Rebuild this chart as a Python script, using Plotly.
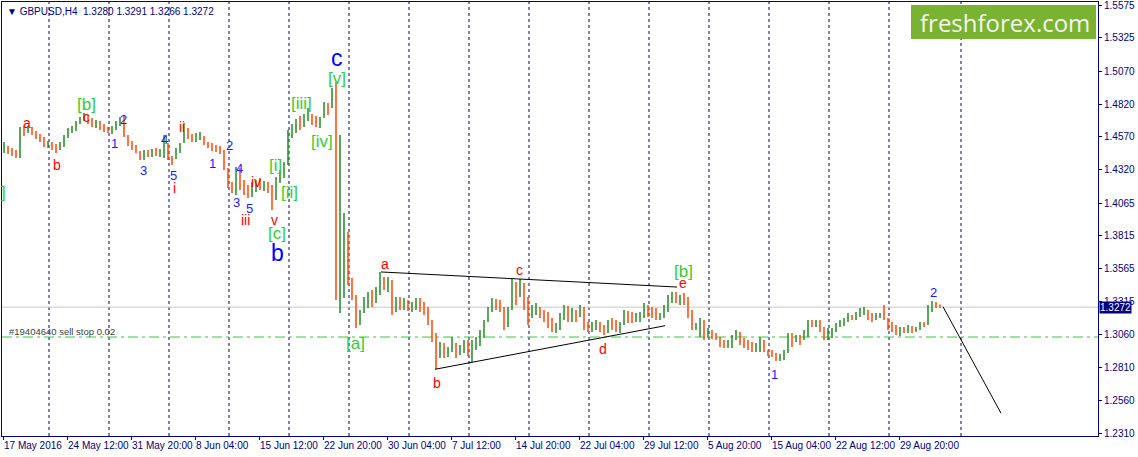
import numpy as np
import plotly.graph_objects as go

# GBPUSD H4 price path, one entry per pair of H4 bars
first_open = 1.4470
high = [
    1.4530, 1.4500, 1.4484, 1.4470, 1.4645, 1.4653, 1.4653, 1.4645, 1.4614, 1.4591,
    1.4568, 1.4538, 1.4530, 1.4515, 1.4530, 1.4584, 1.4637, 1.4653, 1.4691, 1.4721,
    1.4752, 1.4737, 1.4714, 1.4698, 1.4691, 1.4668, 1.4645, 1.4653, 1.4691, 1.4721,
    1.4737, 1.4584, 1.4538, 1.4507, 1.4462, 1.4470, 1.4470, 1.4477, 1.4484, 1.4477,
    1.4584, 1.4523, 1.4424, 1.4484, 1.4523, 1.4676, 1.4637, 1.4591, 1.4599, 1.4607,
    1.4576, 1.4530, 1.4523, 1.4507, 1.4500, 1.4470, 1.4332, 1.4225, 1.4340, 1.4332,
    1.4241, 1.4202, 1.4225, 1.4241, 1.4256, 1.4233, 1.4225, 1.4202, 1.4264, 1.4317,
    1.4378, 1.4622, 1.4668, 1.4706, 1.4729, 1.4744, 1.4790, 1.4744, 1.4729, 1.4721,
    1.4836, 1.4828, 1.4942, 1.4988, 1.4584, 1.3989, 1.3844, 1.3494, 1.3364, 1.3250,
    1.3349, 1.3387, 1.3402, 1.3425, 1.3540, 1.3502, 1.3502, 1.3479, 1.3349, 1.3349,
    1.3341, 1.3326, 1.3311, 1.3341, 1.3341, 1.3311, 1.3273, 1.3174, 1.3074, 1.3006,
    1.2998, 1.2968, 1.3044, 1.2998, 1.2983, 1.3021, 1.3021, 1.3021, 1.3044, 1.3097,
    1.3174, 1.3273, 1.3341, 1.3334, 1.3326, 1.3273, 1.3273, 1.3486, 1.3463, 1.3486,
    1.3456, 1.3349, 1.3288, 1.3303, 1.3273, 1.3250, 1.3234, 1.3189, 1.3151, 1.3227,
    1.3288, 1.3280, 1.3265, 1.3250, 1.3288, 1.3273, 1.3158, 1.3158, 1.3174, 1.3158,
    1.3135, 1.3174, 1.3189, 1.3174, 1.3158, 1.3250, 1.3242, 1.3234, 1.3227, 1.3234,
    1.3303, 1.3288, 1.3273, 1.3265, 1.3227, 1.3288, 1.3364, 1.3387, 1.3387, 1.3364,
    1.3379, 1.3349, 1.3250, 1.3151, 1.3189, 1.3174, 1.3113, 1.3097, 1.3074, 1.3044,
    1.3021, 1.3021, 1.3059, 1.3097, 1.3082, 1.3036, 1.3021, 1.3006, 1.2998, 1.3044,
    1.3021, 1.2945, 1.2945, 1.2922, 1.2914, 1.2945, 1.3074, 1.3074, 1.3059, 1.3059,
    1.3097, 1.3174, 1.3174, 1.3174, 1.3174, 1.3120, 1.3113, 1.3113, 1.3151, 1.3174,
    1.3189, 1.3227, 1.3212, 1.3234, 1.3265, 1.3273, 1.3250, 1.3227, 1.3227, 1.3227,
    1.3288, 1.3189, 1.3158, 1.3135, 1.3120, 1.3120, 1.3135, 1.3128, 1.3120, 1.3158,
    1.3158, 1.3288, 1.3318, 1.3311, 1.3291,
]
low = [
    1.4447, 1.4439, 1.4424, 1.4408, 1.4408, 1.4576, 1.4599, 1.4584, 1.4553, 1.4530,
    1.4492, 1.4484, 1.4470, 1.4447, 1.4470, 1.4492, 1.4561, 1.4599, 1.4614, 1.4668,
    1.4691, 1.4668, 1.4645, 1.4637, 1.4622, 1.4607, 1.4599, 1.4591, 1.4622, 1.4653,
    1.4568, 1.4500, 1.4470, 1.4447, 1.4393, 1.4393, 1.4416, 1.4416, 1.4424, 1.4416,
    1.4408, 1.4393, 1.4355, 1.4401, 1.4447, 1.4523, 1.4553, 1.4530, 1.4530, 1.4546,
    1.4507, 1.4484, 1.4462, 1.4454, 1.4439, 1.4317, 1.4180, 1.4142, 1.4126, 1.4165,
    1.4126, 1.4104, 1.4111, 1.4149, 1.4165, 1.4157, 1.4142, 1.4012, 1.4089, 1.4218,
    1.4256, 1.4355, 1.4561, 1.4599, 1.4622, 1.4645, 1.4691, 1.4660, 1.4645, 1.4637,
    1.4714, 1.4737, 1.4790, 1.3326, 1.3227, 1.3341, 1.3440, 1.3326, 1.3113, 1.3135,
    1.3227, 1.3265, 1.3273, 1.3303, 1.3364, 1.3402, 1.3387, 1.3212, 1.3234, 1.3250,
    1.3250, 1.3242, 1.3234, 1.3250, 1.3234, 1.3212, 1.3135, 1.3006, 1.2800, 1.2884,
    1.2884, 1.2891, 1.2929, 1.2884, 1.2907, 1.2922, 1.2899, 1.2853, 1.2945, 1.2975,
    1.3036, 1.3158, 1.3234, 1.3250, 1.3234, 1.3097, 1.3120, 1.3250, 1.3288, 1.3349,
    1.3250, 1.3135, 1.3189, 1.3212, 1.3189, 1.3158, 1.3113, 1.3082, 1.3074, 1.3097,
    1.3174, 1.3158, 1.3158, 1.3158, 1.3196, 1.3097, 1.3082, 1.3082, 1.3097, 1.3082,
    1.3059, 1.3074, 1.3097, 1.3082, 1.3074, 1.3135, 1.3151, 1.3151, 1.3158, 1.3158,
    1.3189, 1.3196, 1.3189, 1.3174, 1.3174, 1.3189, 1.3234, 1.3303, 1.3303, 1.3288,
    1.3288, 1.3189, 1.3097, 1.3097, 1.3044, 1.3021, 1.3036, 1.3029, 1.3021, 1.2968,
    1.2960, 1.2960, 1.2960, 1.3021, 1.2983, 1.2960, 1.2945, 1.2929, 1.2929, 1.2929,
    1.2929, 1.2899, 1.2891, 1.2861, 1.2861, 1.2869, 1.2922, 1.2968, 1.3006, 1.2983,
    1.3021, 1.3044, 1.3120, 1.3120, 1.3082, 1.3021, 1.3021, 1.3036, 1.3082, 1.3120,
    1.3128, 1.3158, 1.3174, 1.3174, 1.3196, 1.3212, 1.3174, 1.3158, 1.3174, 1.3189,
    1.3174, 1.3097, 1.3082, 1.3059, 1.3051, 1.3074, 1.3074, 1.3074, 1.3082, 1.3097,
    1.3120, 1.3135, 1.3234, 1.3265, 1.3266,
]
close = [
    1.4507, 1.4454, 1.4431, 1.4416, 1.4622, 1.4614, 1.4645, 1.4607, 1.4568, 1.4546,
    1.4507, 1.4515, 1.4484, 1.4462, 1.4515, 1.4568, 1.4622, 1.4645, 1.4683, 1.4714,
    1.4737, 1.4691, 1.4660, 1.4676, 1.4645, 1.4622, 1.4614, 1.4637, 1.4683, 1.4714,
    1.4584, 1.4515, 1.4484, 1.4462, 1.4408, 1.4447, 1.4431, 1.4462, 1.4439, 1.4454,
    1.4546, 1.4408, 1.4393, 1.4470, 1.4507, 1.4653, 1.4584, 1.4553, 1.4576, 1.4591,
    1.4523, 1.4500, 1.4492, 1.4470, 1.4454, 1.4348, 1.4210, 1.4165, 1.4317, 1.4210,
    1.4149, 1.4126, 1.4195, 1.4218, 1.4210, 1.4225, 1.4165, 1.4089, 1.4241, 1.4294,
    1.4363, 1.4599, 1.4637, 1.4683, 1.4668, 1.4729, 1.4775, 1.4691, 1.4660, 1.4706,
    1.4813, 1.4775, 1.4912, 1.3479, 1.3631, 1.3822, 1.3555, 1.3357, 1.3158, 1.3219,
    1.3326, 1.3357, 1.3326, 1.3402, 1.3479, 1.3433, 1.3463, 1.3288, 1.3326, 1.3295,
    1.3311, 1.3273, 1.3280, 1.3311, 1.3257, 1.3234, 1.3158, 1.3036, 1.2907, 1.2960,
    1.2914, 1.2945, 1.3006, 1.2914, 1.2952, 1.2983, 1.2945, 1.2990, 1.3021, 1.3074,
    1.3151, 1.3250, 1.3311, 1.3280, 1.3265, 1.3135, 1.3234, 1.3440, 1.3418, 1.3456,
    1.3288, 1.3212, 1.3265, 1.3280, 1.3219, 1.3189, 1.3143, 1.3097, 1.3128, 1.3204,
    1.3265, 1.3212, 1.3242, 1.3204, 1.3273, 1.3128, 1.3097, 1.3135, 1.3158, 1.3105,
    1.3090, 1.3158, 1.3135, 1.3113, 1.3143, 1.3227, 1.3189, 1.3174, 1.3204, 1.3227,
    1.3280, 1.3250, 1.3219, 1.3196, 1.3212, 1.3265, 1.3341, 1.3364, 1.3341, 1.3357,
    1.3326, 1.3234, 1.3128, 1.3143, 1.3158, 1.3067, 1.3090, 1.3059, 1.3036, 1.2990,
    1.2975, 1.3006, 1.3044, 1.3082, 1.3013, 1.2983, 1.2968, 1.2952, 1.2975, 1.3021,
    1.2945, 1.2929, 1.2914, 1.2884, 1.2891, 1.2929, 1.3051, 1.3021, 1.3036, 1.3006,
    1.3074, 1.3158, 1.3143, 1.3158, 1.3105, 1.3059, 1.3090, 1.3097, 1.3135, 1.3158,
    1.3181, 1.3212, 1.3189, 1.3219, 1.3250, 1.3265, 1.3204, 1.3181, 1.3204, 1.3219,
    1.3189, 1.3120, 1.3097, 1.3082, 1.3097, 1.3090, 1.3120, 1.3097, 1.3113, 1.3143,
    1.3135, 1.3265, 1.3295, 1.3280, 1.3272,
]

# time scale: a label every 32 H4 bars, counted from the first bar
date_labels = ["17 May 2016", "24 May 12:00", "31 May 20:00", "8 Jun 04:00",
               "15 Jun 12:00", "22 Jun 20:00", "30 Jun 04:00", "7 Jul 12:00",
               "14 Jul 20:00", "22 Jul 04:00", "29 Jul 12:00", "5 Aug 20:00",
               "15 Aug 04:00", "22 Aug 12:00", "29 Aug 20:00"]
label_step = 32
# week separators (H4 bar number)
week_lines = list(range(23, 444, 30)) + [479]

price_labels = [1.5575, 1.5325, 1.5070, 1.4820, 1.4570, 1.4320, 1.4065,
                1.3815, 1.3565, 1.3315, 1.3060, 1.2810, 1.2560, 1.2310]
price_now = 1.3272
order_price = 1.3044
order_text = "#19404640 sell stop 0.02"
header = "GBPUSD,H4\u00a0\u00a01.3280 1.3291 1.3266 1.3272"

# trend lines drawn on the chart (bar number, price)
tri_top_x, tri_top_y = [189, 337], [1.3540, 1.3425]
tri_bot_x, tri_bot_y = [216, 331], [1.2798, 1.3130]
proj_x, proj_y = [470, 499], [1.3275, 1.2463]

# wave labels: (text, bar number, price)
red_labels = [("a", 12, 1.4676), ("b", 27, 1.4355), ("c", 41.5, 1.4721),
              ("i", 85.5, 1.4180), ("ii", 89.5, 1.4645), ("iii", 121, 1.3936),
              ("iv", 126.5, 1.4225), ("v", 135.5, 1.3936), ("a", 191, 1.3601),
              ("b", 217, 1.2693), ("c", 258, 1.3555), ("d", 300, 1.2952),
              ("e", 340, 1.3456)]
blue_labels = [("1", 55.5, 1.4523), ("2", 60, 1.4706), ("3", 70, 1.4317),
               ("4", 80.5, 1.4546), ("5", 85, 1.4279), ("1", 104.5, 1.4370),
               ("2", 113, 1.4507), ("3", 116.5, 1.4066), ("4", 118, 1.4325),
               ("5", 123, 1.4020), ("1", 385.5, 1.2762), ("2", 465, 1.3387)]
green_labels = [("]", 0, 1.4142), ("[b]", 41.5, 1.4813), ("[i]", 136, 1.4355),
                ("[ii]", 143, 1.4142), ("[c]", 137, 1.3837), ("[iii]", 149, 1.4828),
                ("[iv]", 159.5, 1.4538), ("[v]", 167, 1.5011), ("[a]", 176, 1.2998),
                ("[b]", 340, 1.3540)]
big_labels = [("c", 167, 1.5171), ("b", 137, 1.3684)]

NAVY = "#000080"
UP = "#228b22"
DOWN = "#ff4500"
FONT = "Liberation Sans"

n = min(len(high), len(low), len(close))
high, low, close = high[:n], low[:n], close[:n]
opens = [first_open] + close[:-1]
bar_x = np.arange(n) * 2 + 0.5  # each entry spans two H4 bars

fig = go.Figure()

fig.add_trace(go.Ohlc(
    x=bar_x, open=opens, high=high, low=low, close=close,
    increasing=dict(line=dict(color=UP, width=1.5)),
    decreasing=dict(line=dict(color=DOWN, width=1.5)),
    tickwidth=0, hoverinfo="skip", showlegend=False,
))

for xs, ys in [(tri_top_x, tri_top_y), (tri_bot_x, tri_bot_y), (proj_x, proj_y)]:
    fig.add_trace(go.Scatter(x=xs, y=ys, mode="lines", line=dict(color="black", width=1),
                             hoverinfo="skip", showlegend=False))

# pending order label, sitting just above its line
fig.add_trace(go.Scatter(x=[3], y=[order_price], mode="text", text=[order_text],
                         textposition="top right", cliponaxis=False,
                         textfont=dict(family=FONT, size=9.5, color="#404040"),
                         hoverinfo="skip", showlegend=False))

shapes = []
for w in week_lines:
    shapes.append(dict(type="line", xref="x", yref="paper", x0=w, x1=w, y0=0, y1=1,
                       line=dict(color=NAVY, width=1, dash="3px,3px"), layer="below"))
shapes.append(dict(type="line", xref="paper", yref="y", x0=0, x1=1, y0=price_now, y1=price_now,
                   line=dict(color="#c8c8c8", width=1), layer="below"))
shapes.append(dict(type="line", xref="paper", yref="y", x0=0, x1=1, y0=order_price, y1=order_price,
                   line=dict(color="#32cd32", width=1, dash="10px,4px,3px,4px"), layer="below"))
# freshforex badge
shapes.append(dict(type="rect", xref="paper", yref="paper", x0=0.8294, x1=0.9982, y0=0.9147, y1=0.9931,
                   fillcolor="#7ab232", line=dict(width=0), layer="below"))
fig.update_layout(shapes=shapes)

ann = []
for items, color, size in [(red_labels, "#ff0000", 14), (blue_labels, "#1a1aff", 13),
                           (green_labels, "#32cd32", 17), (big_labels, "#0000ff", 23)]:
    for txt, bx, py in items:
        ann.append(dict(x=bx, y=py, xref="x", yref="y", text=txt, showarrow=False,
                        font=dict(family=FONT, size=size, color=color)))

ann.append(dict(x=0, y=1, xref="paper", yref="paper", xanchor="left", yanchor="top",
                xshift=3, yshift=-2, showarrow=False,
                text="\u25bc " + header, font=dict(family=FONT, size=10, color=NAVY)))
ann.append(dict(x=1, y=price_now, xref="paper", yref="y", xanchor="left", yanchor="middle",
                xshift=1, showarrow=False, text=f"{price_now:.4f}", bgcolor=NAVY, borderpad=0,
                font=dict(family=FONT, size=10, color="white")))
ann.append(dict(x=0.9147, y=0.9539, xref="paper", yref="paper", xanchor="center", yanchor="middle",
                showarrow=False, text="freshforex.com",
                font=dict(family="Open Sans", size=24, color="#f4f8ee")))
fig.update_layout(annotations=ann)

fig.update_layout(
    width=1138, height=457,
    margin=dict(l=2, r=40, t=2, b=21, autoexpand=False),
    paper_bgcolor="white", plot_bgcolor="white",
    font=dict(family=FONT, size=10, color=NAVY),
    showlegend=False,
    xaxis=dict(
        range=[-0.5, 547.5], showgrid=False, zeroline=False, automargin=False,
        showline=True, mirror=True, linecolor=NAVY, linewidth=1,
        tickvals=[i * label_step for i in range(len(date_labels))], ticktext=date_labels,
        ticks="outside", ticklen=3, tickcolor=NAVY, ticklabelposition="outside right",
        tickangle=0, tickfont=dict(family=FONT, size=10, color=NAVY),
        rangeslider=dict(visible=False), fixedrange=True,
    ),
    yaxis=dict(
        range=[1.22895, 1.55979], side="right", showgrid=False, zeroline=False, automargin=False,
        showline=True, mirror=True, linecolor=NAVY, linewidth=1,
        tickvals=price_labels, ticktext=[f"{v:.4f}" for v in price_labels],
        ticks="outside", ticklen=3, tickcolor=NAVY, ticklabeloverflow="allow",
        tickfont=dict(family=FONT, size=10, color=NAVY),
    ),
)

# the page's default body margin would shift the chart by 8px
fig.write_html("out.html", config={"displayModeBar": False},
               post_script="document.body.style.margin='0';")
